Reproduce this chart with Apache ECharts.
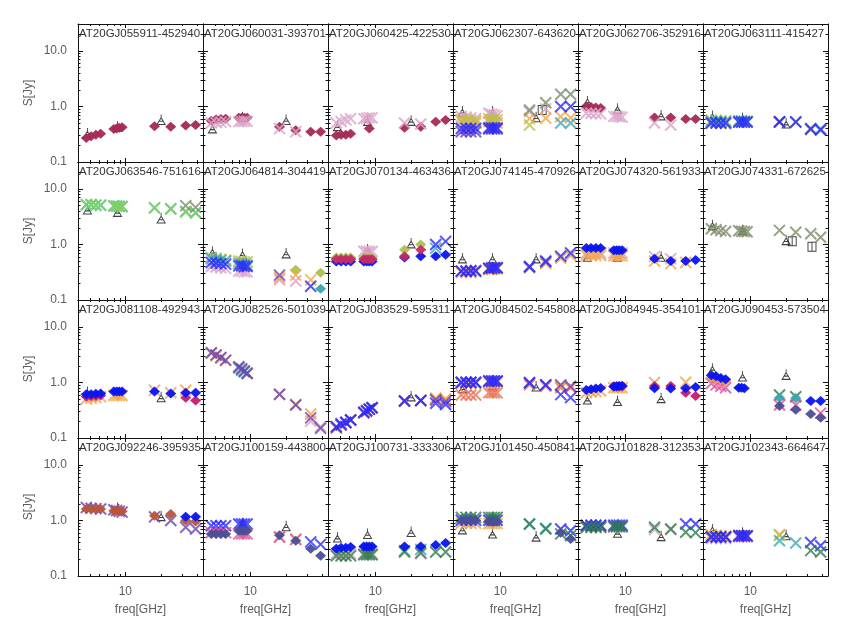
<!DOCTYPE html>
<html><head><meta charset="utf-8">
<script src="https://cdn.jsdelivr.net/npm/echarts@6/dist/echarts.min.js"></script>
<style>html,body{margin:0;padding:0;background:#fff}#c{width:850px;height:627px}</style>
</head><body><div id="c"></div>
<script>
const _ = null;
// ---------------- DATA ----------------
const TITLES = [
  'AT20GJ055911-452940','AT20GJ060031-393701','AT20GJ060425-422530','AT20GJ062307-643620','AT20GJ062706-352916','AT20GJ063111-415427',
  'AT20GJ063546-751616','AT20GJ064814-304419','AT20GJ070134-463436','AT20GJ074145-470926','AT20GJ074320-561933','AT20GJ074331-672625',
  'AT20GJ081108-492943','AT20GJ082526-501039','AT20GJ083529-595311','AT20GJ084502-545808','AT20GJ084945-354101','AT20GJ090453-573504',
  'AT20GJ092246-395935','AT20GJ100159-443800','AT20GJ100731-333306','AT20GJ101450-450841','AT20GJ101828-312353','AT20GJ102343-664647'
];
const FREQ = [4.7, 5.15, 5.65, 6.2, 8.0, 8.45, 8.9, 9.4, 17.6, 24.1, 32.2, 39.0];   // GHz
const FREQ_AT20G = [4.8, 8.6, 20];
const FREQ_SQ = [22.5, 33];
const X_MAJOR = [10];
const X_MINOR = [5, 6, 7, 8, 9, 20, 30, 40];
const Y_MAJOR = [0.10001, 1, 10];
const Y_MINOR = [0.2,0.3,0.4,0.5,0.6,0.7,0.8,0.9, 2,3,4,5,6,7,8,9, 20];

// AT20G (triangles), per panel, at FREQ_AT20G
const AT20G = [
  [0.33,0.44,0.58],[0.41,0.65,0.58],[0.45,0.56,0.56],[0.82,0.82,0.65],[1.25,0.92,0.70],[0.68,0.63,0.50],
  [4.3,3.9,2.97],[0.75,0.68,0.70],[_,0.82,1.06],[0.57,0.57,0.57],[0.61,0.61,0.61],[2.25,1.83,1.21],
  [0.68,_,0.55],[_,_,_],[_,_,0.57],[0.80,0.90,0.86],[0.50,0.47,0.53],[1.78,1.30,1.39],
  [_,1.7,1.21],[_,0.90,0.80],[0.50,0.58,0.63],[0.70,0.59,0.52],[_,0.61,0.53],[0.70,0.61,0.55]
];
// squares: [panel, values at FREQ_SQ]
const SQUARES = [[3, [0.86, _]], [11, [1.13, 0.90]]];

// epochs: [panel, values at FREQ]
const EP_A = [
  [0, [0.27,0.29,0.31,0.32, 0.39,0.40,0.41,0.42, 0.44,0.43, 0.45,0.46]],
  [1, [0.55,0.58,0.59,0.60, 0.62,0.62,0.62,0.62, 0.43,0.37, 0.35,0.35]],
  [2, [0.30,0.31,0.31,0.32, _,_,0.40,_, 0.41,0.43, 0.53,0.57]],
  [4, [1.00,0.97,0.95,0.93, _,_,_,_, 0.63,0.63, 0.59,0.59]]
];
const EP_B = [
  [1, [0.50,0.51,0.52,0.53, 0.53,0.53,0.54,0.54, 0.40,0.35, _,_]],
  [2, [0.50,0.53,0.57,0.60, 0.60,0.61,0.62,0.62, 0.50,0.48, _,_]],
  [3, [0.66,0.64,0.62,0.60, 0.75,0.72,0.70,0.68, 0.80,0.90, _,_]],
  [4, [0.75,0.75,0.74,0.73, 0.66,0.66,0.65,0.64, 0.50,0.46, _,_]],
  [7, [0.40,0.39,0.38,0.37, 0.33,0.33,0.32,0.32, 0.23,0.22, _,_]],
  [8, [_,_,_,_, 0.75,0.75,0.74,0.74, _,_, _,_]],
  [10, [0.70,0.70,0.70,0.70, 0.70,0.70,0.70,0.70, 0.60,0.55, _,_]],
  [13, [_,_,_,_, _,_,_,_, _,_, 0.20,0.16]],
  [20, [0.25,0.25,0.25,0.25, 0.25,0.25,0.25,0.25, _,0.25, _,_]],
  [22, [0.75,0.75,0.75,0.75, 0.76,0.76,0.76,0.76, 0.68,0.68, _,_]],
  [23, [0.47,0.47,0.47,0.47, 0.50,0.50,0.50,0.50, _,_, _,_]]
];
const EP_C = [
  [3, [0.40,0.40,0.40,0.40, 0.41,0.41,0.41,0.41, _,_, 0.99,0.99]],
  [5, [0.50,0.50,0.50,0.50, 0.52,0.52,0.52,0.52, 0.52,0.52, 0.39,0.38]],
  [7, [0.47,0.46,0.45,0.44, 0.41,0.41,0.40,0.40, _,_, 0.176,_]],
  [8, [_,_,_,_, _,_,_,_, _,_, 0.99,1.13]],
  [9, [0.33,0.33,0.33,0.33, 0.37,0.37,0.38,0.38, 0.40,0.50, 0.61,0.70]],
  [14, [0.16,0.18,0.19,0.21, 0.29,0.31,0.33,0.35, 0.46,0.47, 0.42,0.40]],
  [15, [1.0,1.0,1.0,1.0, 1.05,1.05,1.05,1.05, 0.97,0.90, 0.60,0.53]],
  [19, [0.80,0.80,0.80,0.80, 0.86,0.86,0.86,0.86, _,_, 0.41,0.37]],
  [21, [1.0,1.0,1.0,1.0, 1.0,1.0,1.0,1.0, _,_, 0.70,0.65]],
  [22, [0.82,0.82,0.82,0.82, 0.82,0.82,0.82,0.82, _,_, 0.86,0.86]],
  [23, [0.50,0.50,0.50,0.50, 0.53,0.53,0.53,0.53, _,_, 0.40,0.35]]
];
const EP_D = [
  [8, [0.49,0.49,0.49,0.49, 0.49,0.49,0.49,0.49, 0.58,0.61, 0.61,0.65]],
  [10, [0.86,0.86,0.86,0.86, 0.78,0.78,0.78,0.78, 0.55,0.50, 0.50,0.52]],
  [12, [0.61,0.61,0.62,0.63, 0.68,0.68,0.68,0.68, 0.68,0.63, 0.65,0.65]],
  [16, [0.73,0.75,0.77,0.79, 0.84,0.85,0.86,0.87, 0.78,0.77, 0.78,0.82]],
  [17, [1.34,1.28,1.20,1.13, 0.80,0.80,0.78,_, _,_, 0.46,0.46]],
  [18, [_,_,_,_, _,_,_,_, _,_, 1.16,1.16]],
  [20, [0.31,0.32,0.32,0.33, 0.34,0.34,0.34,0.34, 0.34,0.34, 0.36,0.39]]
];
const EP_E = [
  [3, [0.53,0.52,0.50,0.50, 0.53,0.52,0.50,0.50, 0.60,0.61, 0.65,0.62]],
  [5, [0.50,0.50,0.49,0.49, 0.52,0.52,0.52,0.52, 0.52,0.52, 0.38,0.37]],
  [7, [_,_,_,_, _,_,_,_, 0.25,0.28, 0.23,_]],
  [9, [0.31,0.31,0.31,0.32, 0.35,0.35,0.36,0.36, 0.38,0.45, 0.56,0.63]],
  [10, [0.63,0.63,0.63,0.63, 0.62,0.62,0.62,0.62, 0.50,0.45, 0.47,_]],
  [12, [0.50,0.52,0.53,0.55, 0.58,0.58,0.58,0.58, 0.72,0.65, 0.72,_]],
  [13, [3.3,3.0,2.7,2.45, 1.85,1.7,1.55,1.42, 0.60,0.40, 0.27,_]],
  [14, [0.15,0.17,0.19,0.21, 0.28,0.30,0.33,0.35, 0.46,0.47, 0.52,0.50]],
  [15, [0.95,0.95,0.95,0.95, 1.0,1.0,1.0,1.0, _,_, 0.85,_]],
  [16, [0.65,0.67,0.68,0.70, 0.80,0.80,0.80,0.80, 0.99,_, 1.0,_]],
  [19, [_,_,_,_, _,_,_,_, 0.50,0.46, _,_]],
  [21, [0.88,0.88,0.88,0.88, 0.87,0.87,0.87,0.87, _,_, _,_]],
  [23, [0.55,0.54,0.53,0.52, 0.54,0.53,0.53,0.52, 0.55,_, _,_]]
];
const EP_F = [
  [3, [_,_,_,_, _,_,_,_, 0.86,1.16, 1.64,1.64]],
  [6, [_,_,_,_, _,_,_,_, _,_, 4.95,4.6]],
  [11, [1.90,1.83,1.76,1.70, 1.75,1.72,1.70,1.68, 1.78,1.64, 1.55,1.34]]
];
const EP_G = [
  [3, [_,_,_,_, _,_,_,_, _,_, 0.50,0.50]],
  [5, [0.54,0.54,0.53,0.53, 0.55,0.55,0.54,0.54, 0.53,0.53, 0.40,0.39]],
  [6, [5.1,5.1,5.0,5.0, 4.9,4.9,4.8,4.8, 4.5,4.35, 3.9,3.7]],
  [7, [0.55,0.53,0.51,0.50, 0.45,0.44,0.43,0.42, _,_, _,_]],
  [8, [_,_,_,_, _,_,_,_, _,_, 0.85,_]],
  [13, [_,_,_,_, 1.8,1.65,1.55,1.45, _,_, _,_]],
  [20, [_,_,_,_, _,_,_,_, 0.285,0.30, _,_]],
  [21, [_,_,_,_, _,_,_,_, 0.86,0.72, _,_]],
  [23, [_,_,_,_, _,_,_,_, 0.43,0.39, _,_]]
];
const EP_H = [
  [3, [0.58,0.56,0.55,0.55, 0.60,0.58,0.58,0.57, 0.46,_, _,_]],
  [5, [0.56,0.56,0.55,0.55, _,_,_,_, _,_, _,_]],
  [7, [0.58,0.56,0.54,0.52, 0.50,0.49,0.48,0.48, _,_, _,_]],
  [23, [0.53,0.52,0.52,0.51, _,_,_,_, 0.54,_, _,_]]
];
const EP_I = [
  [3, [0.35,0.35,0.35,0.35, 0.39,0.39,0.39,0.39, _,_, _,_]],
  [5, [_,_,_,_, _,_,_,_, 0.53,_, _,_]],
  [7, [_,_,_,_, _,_,_,_, 0.28,_, _,_]],
  [9, [0.33,0.33,0.34,0.34, 0.37,0.38,0.38,0.38, 0.39,0.48, _,_]],
  [13, [3.4,3.1,2.8,2.5, 1.9,1.75,1.6,1.45, 0.61,0.39, 0.23,0.15]],
  [14, [0.155,0.17,0.19,0.21, 0.285,0.305,0.33,0.35, 0.46,0.47, 0.48,0.45]],
  [15, [0.99,0.99,0.99,0.99, 1.06,1.06,1.06,1.06, 0.99,0.90, 0.90,0.85]],
  [18, [1.7,1.65,1.62,1.60, 1.55,1.50,1.45,1.40, 1.15,0.99, 0.75,0.70]],
  [22, [0.80,0.80,0.80,0.80, _,_,_,_, _,_, _,_]],
  [23, [0.50,0.50,0.50,0.50, 0.52,0.52,0.52,0.52, _,_, _,_]]
];
const EP_J = [
  [17, [_,_,_,_, _,_,_,_, 0.375,0.32, 0.27,0.23]],
  [19, [0.57,0.57,0.57,0.57, 0.65,0.65,0.65,0.65, 0.54,0.43, 0.31,0.23]],
  [21, [0.99,0.99,0.99,0.99, 0.95,0.95,0.95,0.95, _,_, 0.60,0.46]]
];
const EP_K = [
  [12, [0.55,0.56,0.57,0.58, _,_,_,_, _,_, 0.53,0.47]],
  [16, [_,_,_,_, 0.84,0.84,0.84,0.84, 0.86,0.86, 0.65,0.57]]
];
const EP_T = [
  [8, [0.54,0.54,0.54,0.54, 0.54,0.54,0.54,0.54, 0.61,0.80, _,_]]
];
const EP_L = [
  [18, [1.60,1.60,1.60,1.60, 1.49,1.48,1.47,1.46, 1.21,1.30, 0.99,0.95]]
];
const EP_M = [
  [17, [_,_,_,_, _,_,_,_, 0.59,0.55, _,_]],
  [20, [0.23,0.23,0.23,0.23, 0.24,0.24,0.24,0.24, 0.27,0.26, 0.27,0.27]],
  [21, [1.13,1.13,1.13,1.13, 1.13,1.13,1.13,1.13, 0.86,0.70, 0.57,0.53]],
  [22, [0.75,0.75,0.75,0.75, 0.77,0.77,0.77,0.77, 0.75,0.70, 0.61,0.60]],
  [23, [_,_,_,_, _,_,_,_, _,_, 0.285,0.27]]
];
const EP_N = [
  [6, [5.2,5.2,5.1,5.1, 4.9,4.8,4.8,4.7, 4.5,4.3, 3.8,3.65]]
];
const EP_O = [
  [17, [1.21,1.15,1.10,1.06, _,_,_,_, _,_, _,_]]
];
const EP_P = [
  [7, [_,_,_,_, _,_,_,_, _,_, _,0.16]],
  [8, [0.57,0.57,0.57,0.57, _,_,_,_, _,_, _,_]],
  [17, [_,_,_,_, _,_,_,_, 0.53,0.52, _,_]]
];
const EP_Q = [
  [7, [_,_,_,_, _,_,_,_, _,0.35, _,0.31]],
  [8, [0.58,0.58,0.58,0.58, 0.57,0.57,0.57,0.57, 0.80,0.99, _,_]]
];
const EP_R = [
  [17, [0.95,0.90,0.85,0.80, _,_,_,_, 0.39,0.39, _,0.28]],
  [19, [0.60,0.60,0.60,0.60, 0.57,0.57,0.57,0.57, 0.50,0.45, _,_]]
];
const EP_S = [
  [14, [_,_,_,_, _,_,_,_, _,_, 0.50,0.48]],
  [15, [0.59,0.59,0.59,0.59, 0.65,0.65,0.65,0.65, 0.90,0.85, 0.80,0.80]]
];

// ---------------- STYLE / LAYOUT ----------------
const FONT = '"Liberation Sans", Arial, sans-serif';
const AXC = '#111';
const LBL = '#5c5c5c';
const GL = 78, GT = 24, GW = 125, GH = 138;
const XMIN = 4, XMAX = 45, YMIN = 0.1, YMAX = 30;
const CROSS = 'path://M0,0L10,10M10,0L0,10';
const TRI = 'path://M5,0L5,3.5M5,3.5L10,11L0,11ZM2.2,7.5L7.8,7.5';
const SQR = 'path://M0,0L10,0L10,11L0,11ZM5,0L5,11';
const EPOCHS = [
  [EP_A, 'D', '#a52a52'],
  [EP_B, 'X', '#dba2c8'],
  [EP_S, 'X', '#e8755a'],
  [EP_E, 'X', '#f3a546'],
  [EP_H, 'X', '#b9c24c'],
  [EP_G, 'X', '#3fa9b5'],
  [EP_N, 'X', '#82d458'],
  [EP_F, 'X', '#7d8c6a'],
  [EP_I, 'X', '#6e44b4'],
  [EP_C, 'X', '#2a2aff'],
  [EP_M, 'X', '#2e7d4a'],
  [EP_R, 'X', '#e0509a'],
  [EP_K, 'D', '#c81a6e'],
  [EP_L, 'D', '#b9553a'],
  [EP_O, 'D', '#e89a55'],
  [EP_D, 'D', '#0a14f0'],
  [EP_P, 'D', '#3aa5ae'],
  [EP_Q, 'D', '#b0c050'],
  [EP_T, 'D', '#c42a64'],
  [EP_J, 'D', '#4a4f96']
];

const grids = [], xAxes = [], yAxes = [], titles = [], series = [];
for (let i = 0; i < 24; i++) {
  const r = Math.floor(i / 6), c = i % 6;
  const left = GL + c * GW, top = GT + r * GH;
  grids.push({ left: left, top: top, width: GW, height: GH });
  titles.push({ text: TITLES[i], left: left + 1, top: top + 4, padding: 0,
    textStyle: { fontSize: 11.5, fontWeight: 'normal', color: '#333', fontFamily: FONT } });
  const bottomRow = r === 3, leftCol = c === 0;
  const baseX = { gridIndex: i, type: 'log', logBase: 10, min: XMIN, max: XMAX, splitLine: { show: false }, axisTick: { show: false } };
  const baseY = { gridIndex: i, type: 'log', logBase: 10, min: YMIN, max: YMAX, splitLine: { show: false }, axisTick: { show: false } };
  xAxes.push(Object.assign({}, baseX, {
    position: 'bottom',
    axisLine: { show: true, onZero: false, lineStyle: { color: AXC, width: 1 } },
    axisLabel: { show: bottomRow, customValues: X_MAJOR, margin: 10, color: LBL, fontSize: 12, fontFamily: FONT,
      formatter: v => String(Math.round(v)) },
    name: bottomRow ? 'freq[GHz]' : '', nameLocation: 'middle', nameGap: 28,
    nameTextStyle: { color: LBL, fontSize: 12, fontFamily: FONT }
  }));
  xAxes.push(Object.assign({}, baseX, {
    position: 'top',
    axisLine: { show: true, onZero: false, lineStyle: { color: AXC, width: 1 } },
    axisLabel: { show: false }
  }));
  yAxes.push(Object.assign({}, baseY, {
    position: 'left',
    axisLine: { show: true, onZero: false, lineStyle: { color: AXC, width: 1 } },
    axisLabel: { show: leftCol, customValues: Y_MAJOR, margin: 11, color: LBL, fontSize: 12, fontFamily: FONT,
      formatter: v => Number(v).toFixed(1) },
    name: leftCol ? 'S[Jy]' : '', nameLocation: 'middle', nameGap: 43,
    nameTextStyle: { color: LBL, fontSize: 12, fontFamily: FONT }
  }));
  yAxes.push(Object.assign({}, baseY, {
    position: 'right',
    axisLine: { show: true, onZero: false, lineStyle: { color: AXC, width: 1 } },
    axisLabel: { show: false }
  }));
}

function pts(freqs, vals) {
  const out = [];
  vals.forEach((v, k) => { if (v !== null && v !== undefined) out.push([freqs[k], v]); });
  return out;
}
function addSeries(panel, data, kind, color) {
  if (!data.length) return;
  const s = { type: 'scatter', xAxisIndex: panel * 2, yAxisIndex: panel * 2, data: data,
    silent: true, animation: false, emphasis: { disabled: true } };
  if (kind === 'D') {
    s.symbol = 'diamond'; s.symbolSize = [11, 10];
    s.itemStyle = { color: color, opacity: 0.95 };
  } else if (kind === 'X') {
    s.symbol = CROSS; s.symbolSize = [11, 11];
    s.itemStyle = { color: 'rgba(0,0,0,0)', borderColor: color, borderWidth: 2, opacity: 0.8 };
  } else if (kind === 'T') {
    s.symbol = TRI; s.symbolSize = [8, 10];
    s.itemStyle = { color: 'rgba(0,0,0,0)', borderColor: '#111', borderWidth: 1 };
  } else if (kind === 'S') {
    s.symbol = SQR; s.symbolSize = [8, 9];
    s.itemStyle = { color: 'rgba(0,0,0,0)', borderColor: '#111', borderWidth: 1 };
  }
  series.push(s);
}
for (let i = 0; i < 24; i++) addSeries(i, pts(FREQ_AT20G, AT20G[i]), 'T');
SQUARES.forEach(([p, v]) => addSeries(p, pts(FREQ_SQ, v), 'S'));
EPOCHS.forEach(([set, kind, color]) => {
  set.forEach(([p, v]) => addSeries(p, pts(FREQ, v), kind, color));
});

const chart = echarts.init(document.getElementById('c'));
chart.setOption({
  backgroundColor: '#fff',
  animation: false,
  title: titles,
  grid: grids,
  xAxis: xAxes,
  yAxis: yAxes,
  series: series
});

// inward tick marks on all four sides, positioned through each panel's own log scales
const tickEls = [];
function tline(x1, y1, x2, y2) {
  tickEls.push({ type: 'line', silent: true, z: 50,
    shape: { x1: x1, y1: y1, x2: x2, y2: y2 }, style: { stroke: AXC, lineWidth: 1 } });
}
const crisp = v => Math.round(v) + 0.5;
for (let i = 0; i < 24; i++) {
  const xa = { xAxisIndex: i * 2 }, ya = { yAxisIndex: i * 2 };
  const yb = chart.convertToPixel(ya, YMIN), yt = chart.convertToPixel(ya, YMAX);
  const xl = chart.convertToPixel(xa, XMIN), xr = chart.convertToPixel(xa, XMAX);
  const xt = [].concat(X_MAJOR.map(v => [v, 4]), X_MINOR.map(v => [v, 2]));
  xt.forEach(([v, len]) => {
    const x = crisp(chart.convertToPixel(xa, v));
    tline(x, yb, x, yb - len);
    tline(x, yt, x, yt + len);
  });
  const yt2 = [].concat(Y_MAJOR.slice(1).map(v => [v, 5]), Y_MINOR.map(v => [v, 2.5]));
  yt2.forEach(([v, len]) => {
    const y = crisp(chart.convertToPixel(ya, v));
    tline(xl, y, xl + len, y);
    tline(xr, y, xr - len, y);
  });
}
chart.setOption({ graphic: { elements: tickEls } });
</script>
</body></html>
